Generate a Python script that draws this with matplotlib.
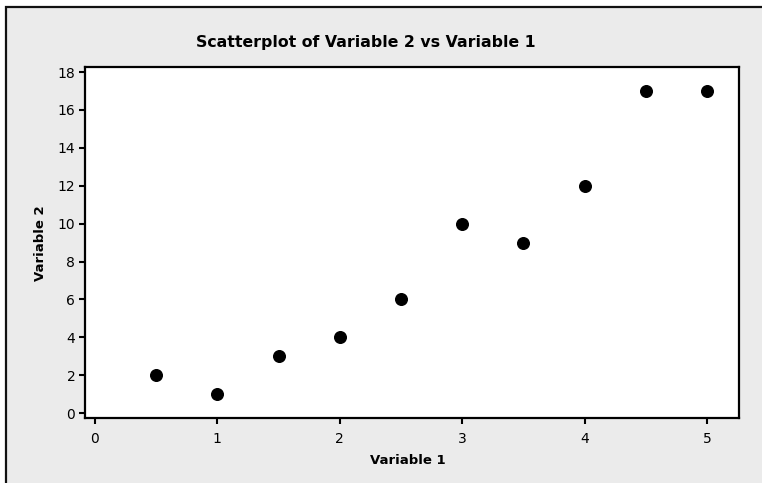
import matplotlib
matplotlib.use("Agg")
from matplotlib import pyplot as plt
from matplotlib.patches import Rectangle

# Data
variable_1 = [0.5, 1.0, 1.5, 2.0, 2.5, 3.0, 3.5, 4.0, 4.5, 5.0]
variable_2 = [2, 1, 3, 4, 6, 10, 9, 12, 17, 17]
x_ticks = [0, 1, 2, 3, 4, 5]
y_ticks = [0, 2, 4, 6, 8, 10, 12, 14, 16, 18]

W, H = 762, 483
fig = plt.figure(figsize=(W / 100, H / 100), dpi=100, facecolor="white")

# Gray panel with a dark border (runs off the right and bottom edges)
panel = Rectangle((6 / W, -0.1), 1.1, 1 - 7 / H + 0.1, transform=fig.transFigure,
                  facecolor="#ebebeb", edgecolor="#111111", linewidth=1.6, zorder=-1)
fig.patches.append(panel)

ax = fig.add_axes([85 / W, (H - 418) / H, (739 - 85) / W, (418 - 67) / H])
ax.set_zorder(2)
ax.set_facecolor("white")
ax.scatter(variable_1, variable_2, s=70, color="black", zorder=3)

ax.set_xlim(-0.08, 5.26)
ax.set_ylim(-0.26, 18.27)
ax.set_xticks(x_ticks)
ax.set_yticks(y_ticks)
ax.tick_params(direction="out", length=4, width=1.5, color="black",
               labelsize=10, pad=3)
ax.tick_params(axis="x", pad=6)
for spine in ax.spines.values():
    spine.set_linewidth(1.6)
    spine.set_color("black")

fig.text(366 / W, 1 - 42 / H, "Scatterplot of Variable 2 vs Variable 1",
         ha="center", va="center", fontsize=11.3, fontweight="bold")
fig.text(408 / W, 1 - 460 / H, "Variable 1", ha="center", va="center",
         fontsize=9.5, fontweight="bold")
fig.text(40 / W, 1 - 243 / H, "Variable 2", ha="center", va="center",
         rotation=90, fontsize=9.5, fontweight="bold")

fig.savefig("out.png", dpi=100, facecolor=fig.get_facecolor())
